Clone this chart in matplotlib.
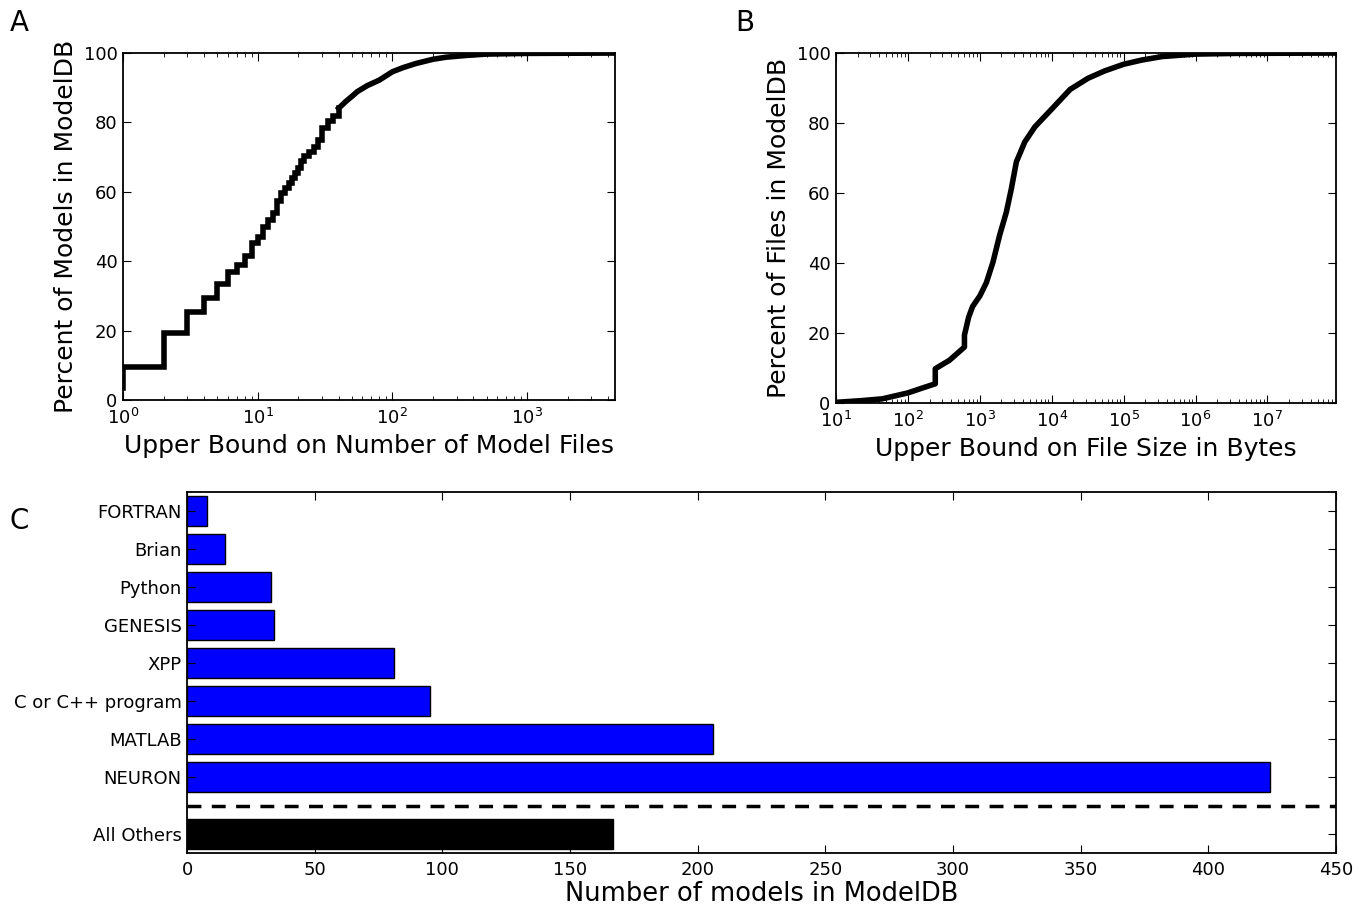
"""
ModelDB summary figure: CDFs of model file counts / file sizes and
number of models per simulator.
"""
import numpy as np
import matplotlib
matplotlib.use("Agg")
import matplotlib.pyplot as plt

# Panel A: upper bound on number of model files vs percent of models
# low counts are drawn as a step CDF, the dense tail as a line
n_files_step = [1, 1, 2, 3, 4, 5, 6, 7, 8, 9, 10, 11, 12, 13, 14, 15, 16, 17, 18,
                19, 20, 21, 22, 24, 26, 28, 30, 33, 36, 40]
pct_models_step = [3.5, 9.4, 19.3, 25.3, 29.5, 33.3, 36.8, 38.9, 41.5, 45.2, 47.1,
                   50.0, 51.9, 53.8, 57.3, 59.8, 61.0, 62.5, 63.9, 65.3, 66.8, 68.8,
                   70.2, 71.6, 73.0, 75.0, 78.4, 80.3, 81.9, 84.1]
n_files_tail = [40, 45, 50, 55, 65, 80, 100, 120, 150, 200, 250, 350, 500, 1000, 4500]
pct_models_tail = [84.1, 86.0, 87.5, 88.9, 90.6, 92.2, 94.6, 95.8, 97.0, 98.2, 98.8,
                   99.3, 99.7, 99.9, 100.0]

# Panel B: upper bound on file size in bytes vs percent of files
file_bytes = [10, 23, 44, 100, 159, 240, 240, 377, 611, 611, 700, 794, 1000, 1233,
              1520, 1883, 2334, 2742, 3222, 4217, 5823, 10000, 18000, 32000, 54500,
              100000, 179000, 343000, 1000000, 3700000, 90000000]
pct_files = [0.2, 0.7, 1.2, 2.9, 4.3, 5.5, 9.8, 12.2, 16.0, 19.4, 24.6, 27.6, 30.6,
             34.4, 40.2, 47.9, 54.5, 61.2, 68.9, 74.6, 78.9, 84.0, 89.6, 92.8, 94.9,
             96.8, 98.0, 99.0, 99.7, 99.9, 100.0]

# Panel C: number of models per simulator
simulators = ["NEURON", "MATLAB", "C or C++ program", "XPP", "GENESIS",
              "Python", "Brian", "FORTRAN"]
sim_counts = [424, 206, 95, 81, 34, 33, 15, 8]
others_label = "All Others"
others_count = 167

plt.rcParams["font.family"] = "DejaVu Sans"
plt.rcParams["xtick.direction"] = "in"
plt.rcParams["ytick.direction"] = "in"
plt.rcParams["xtick.top"] = True
plt.rcParams["ytick.right"] = True
plt.rcParams["xtick.major.size"] = 6
plt.rcParams["ytick.major.size"] = 6
plt.rcParams["xtick.minor.size"] = 3
plt.rcParams["ytick.minor.size"] = 3
plt.rcParams["axes.linewidth"] = 1.3
plt.rcParams["xtick.major.pad"] = 6
plt.rcParams["ytick.major.pad"] = 4

fig = plt.figure(figsize=(13.71, 9.10), dpi=100)

# A
ax_a = fig.add_axes([0.0897, 0.5604, 0.3589, 0.3813])
ax_a.plot(n_files_step, pct_models_step, color="black", lw=4, drawstyle="steps-post",
          solid_joinstyle="miter")
ax_a.plot(n_files_tail, pct_models_tail, color="black", lw=4)
ax_a.set_xscale("log")
ax_a.set_xlim(1, 4500)
ax_a.set_ylim(0, 100)
ax_a.set_yticks([0, 20, 40, 60, 80, 100])
ax_a.tick_params(labelsize=13)
ax_a.set_xlabel("Upper Bound on Number of Model Files", fontsize=18, labelpad=4)
ax_a.set_ylabel("Percent of Models in ModelDB", fontsize=18)

# B
ax_b = fig.add_axes([0.6098, 0.5571, 0.3647, 0.3846])
ax_b.plot(file_bytes, pct_files, color="black", lw=4)
ax_b.set_xscale("log")
ax_b.set_xlim(10, 9e7)
ax_b.set_ylim(0, 100)
ax_b.set_yticks([0, 20, 40, 60, 80, 100])
ax_b.tick_params(labelsize=13)
ax_b.set_xlabel("Upper Bound on File Size in Bytes", fontsize=18, labelpad=4)
ax_b.set_ylabel("Percent of Files in ModelDB", fontsize=18)

# C
ax_c = fig.add_axes([0.1364, 0.0626, 0.838, 0.3967])
sim_pos = np.arange(len(simulators)) + 1.5
ax_c.barh(sim_pos, sim_counts, height=0.8, color="#0000ff", edgecolor="black", lw=1)
ax_c.barh([0], [others_count], height=0.8, color="black", edgecolor="black", lw=1)
ax_c.axhline(0.75, color="black", lw=2.5, ls=(0, (4, 3)))
ax_c.set_yticks(list(sim_pos) + [0])
ax_c.set_yticklabels(simulators + [others_label], fontsize=13)
ax_c.set_ylim(-0.5, len(simulators) + 1.0)
ax_c.set_xlim(0, 450)
ax_c.set_xticks(np.arange(0, 451, 50))
ax_c.tick_params(axis="x", labelsize=13)
ax_c.set_xlabel("Number of models in ModelDB", fontsize=18.5, labelpad=1)

fig.text(0.007, 0.975, "A", fontsize=20, va="center", ha="left")
fig.text(0.536, 0.975, "B", fontsize=20, va="center", ha="left")
fig.text(0.007, 0.428, "C", fontsize=20, va="center", ha="left")

fig.savefig("out.png", dpi=100)
